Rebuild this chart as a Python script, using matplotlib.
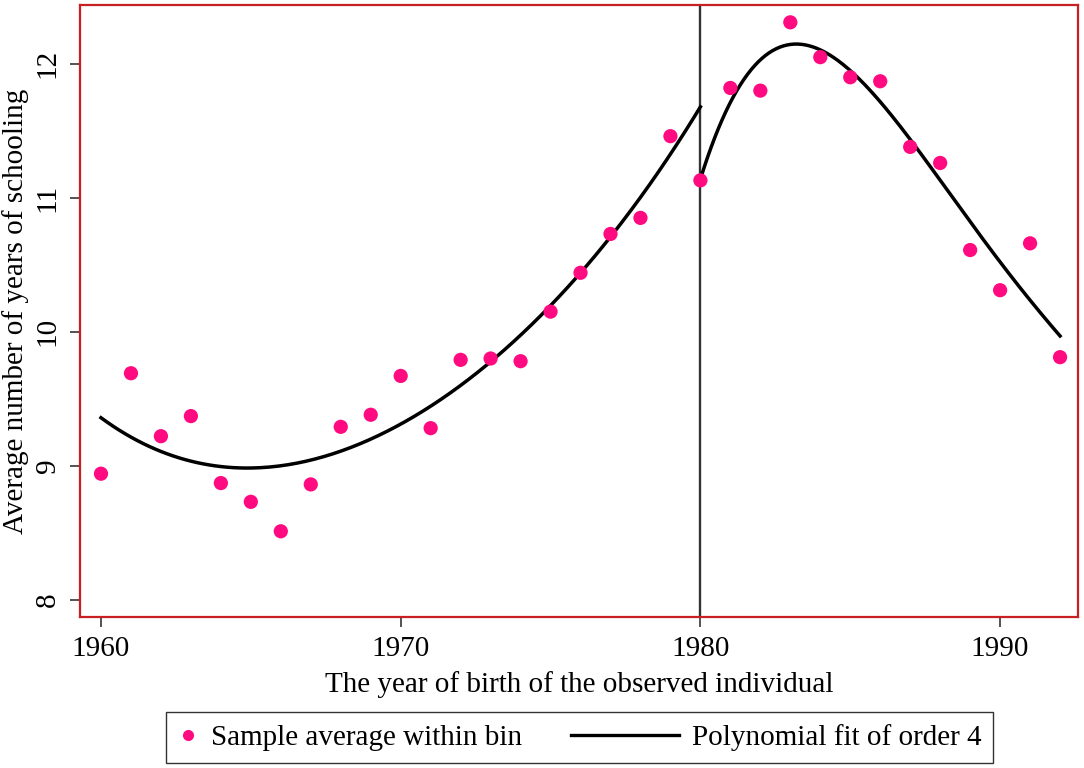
import numpy as np
import matplotlib
matplotlib.use("Agg")
import matplotlib.pyplot as plt
from matplotlib.legend_handler import HandlerBase
from matplotlib.lines import Line2D

# binned sample averages
years = list(range(1960, 1993))
schooling = [8.94, 9.69, 9.22, 9.37, 8.87, 8.73, 8.51, 8.86, 9.29, 9.38,
             9.67, 9.28, 9.79, 9.80, 9.78, 10.15, 10.44, 10.73, 10.85, 11.46,
             11.13, 11.82, 11.80, 12.31, 12.05, 11.90, 11.87, 11.38, 11.26, 10.61,
             10.31, 10.66, 9.81]
cutoff = 1980
x_ticks = [1960, 1970, 1980, 1990]
y_ticks = [8, 9, 10, 11, 12]

PINK = "#ff0a80"
SPINE = "#c82020"


class LongLineHandler(HandlerBase):
    # line legend key that reaches further left than the handle box
    def create_artists(self, legend, orig_handle, xdescent, ydescent,
                       width, height, fontsize, trans):
        y = (height - ydescent) / 2
        x1 = width - xdescent
        line = Line2D([x1 - 3.7 * fontsize, x1], [y, y],
                      color="black", lw=2.4)
        line.set_transform(trans)
        return [line]


def main():
    plt.rcParams["font.family"] = ["Liberation Serif", "DejaVu Serif"]
    fig = plt.figure(figsize=(10.84, 7.68), dpi=100)
    ax = fig.add_axes([0.0738, 0.1966, 0.9207, 0.797])

    yrs = np.array(years, dtype=float)
    val = np.array(schooling)
    left = yrs < cutoff
    right = ~left

    # 4th order polynomial fits on both sides of the cutoff
    c_left = np.polyfit(yrs[left], val[left], 4)
    c_right = np.polyfit(yrs[right], val[right], 4)
    xl = np.linspace(yrs[left].min(), cutoff, 200)
    xr = np.linspace(cutoff, yrs[right].max(), 200)

    ax.axvline(cutoff, color="#333333", lw=1.7, zorder=1)
    ax.plot(xl, np.polyval(c_left, xl), color="black", lw=2.5, zorder=2)
    ax.plot(xr, np.polyval(c_right, xr), color="black", lw=2.5, zorder=2)
    ax.scatter(yrs, val, s=105, color=PINK, edgecolors="none", zorder=3)

    ax.set_xlim(1959.3, 1992.6)
    ax.set_ylim(7.87, 12.44)
    ax.set_xticks(x_ticks)
    ax.set_yticks(y_ticks)
    ax.tick_params(axis="both", length=7, width=1.3, color="#444444",
                   labelsize=21, pad=7)
    for lab in ax.get_yticklabels():
        lab.set_rotation(90)
        lab.set_va("center")
    for sp in ax.spines.values():
        sp.set_color(SPINE)
        sp.set_linewidth(1.6)

    ax.set_xlabel("The year of birth of the observed individual",
                  fontsize=21, labelpad=6)
    ax.set_ylabel("Average number of years of schooling",
                  fontsize=21, labelpad=4)

    dot = Line2D([], [], ls="none", marker="o", ms=8, color=PINK, mec="none")
    fit = Line2D([], [], color="black", lw=2.4)
    fig.legend([dot, fit],
               ["Sample average within bin", "Polynomial fit of order 4"],
               handler_map={fit: LongLineHandler()},
               loc="center", bbox_to_anchor=(0.5346, 0.0397), ncol=2,
               fontsize=21, frameon=True, fancybox=False, edgecolor="#333333",
               framealpha=1, handlelength=0.7, handletextpad=0.45,
               columnspacing=4.68, borderpad=0.4, borderaxespad=0)
    fig.savefig("out.png", dpi=100)


if __name__ == "__main__":
    main()
